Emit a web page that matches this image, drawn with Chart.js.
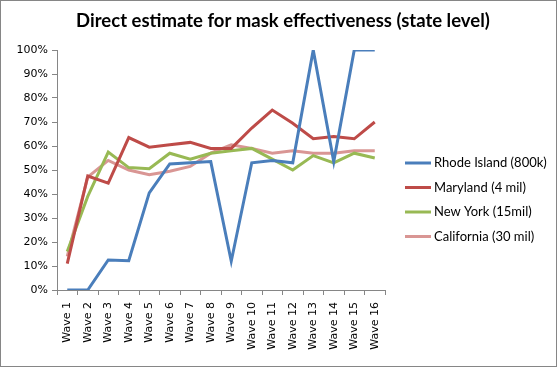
<!DOCTYPE html>
<html lang="en">
<head>
    <meta charset="UTF-8">
    <title>Mask effectiveness</title>
    <script src="https://cdn.jsdelivr.net/npm/chart.js"></script>
    <style>
        body { margin: 0; background: #fff; }
        #wrap { width: 557px; height: 367px; position: relative; }
    </style>
</head>
<body>
    <div id="wrap"><canvas id="maskChart"></canvas></div>

    <script>
        // data
        const waves = ['Wave 1', 'Wave 2', 'Wave 3', 'Wave 4', 'Wave 5', 'Wave 6', 'Wave 7', 'Wave 8',
                       'Wave 9', 'Wave 10', 'Wave 11', 'Wave 12', 'Wave 13', 'Wave 14', 'Wave 15', 'Wave 16'];
        const rhodeIsland = [0, 0, 12.5, 12.2, 40.5, 52.5, 53, 53.5, 12, 53, 54, 53, 100, 53.5, 100, 100];
        const maryland   = [11, 47.5, 44.5, 63.5, 59.5, 60.5, 61.5, 59, 59, 67.5, 75, 69.5, 63, 64, 63, 70];
        const newYork    = [16, 39, 57.5, 51, 50.5, 57, 54.5, 57, 58, 59, 54.5, 50, 56, 53, 57, 55];
        const california = [14, 47, 54, 50, 48, 49.5, 51.5, 57, 60.5, 59, 57, 58, 57, 57, 58, 58];
        const seriesNames = ['Rhode Island (800k)', 'Maryland (4 mil)', 'New York (15mil)', 'California (30 mil)'];
        const yTicks = [0, 10, 20, 30, 40, 50, 60, 70, 80, 90, 100];

        const title = 'Direct estimate for mask effectiveness (state level)';
        const axisColor = '#868686';

        // frame, title and legend drawn by hand, Excel style
        const excelBits = {
            id: 'excelBits',
            beforeDraw(chart) {
                const c = chart.ctx;
                c.save();
                c.fillStyle = '#fff';
                c.fillRect(0, 0, chart.width, chart.height);
                c.strokeStyle = axisColor;
                c.lineWidth = 1;
                c.strokeRect(0.5, 0.5, chart.width - 1, chart.height - 1);
                c.restore();
            },
            afterDraw(chart) {
                const c = chart.ctx;
                c.save();
                c.fillStyle = '#000';
                c.font = 'bold 18.5px Lato';
                c.textAlign = 'center';
                c.textBaseline = 'alphabetic';
                c.fillText(title, 283, 27);

                c.font = '13px Lato';
                c.textAlign = 'left';
                c.textBaseline = 'middle';
                chart.data.datasets.forEach((ds, i) => {
                    const y = 163 + i * 24.5;
                    c.strokeStyle = ds.borderColor;
                    c.lineWidth = 3;
                    c.beginPath();
                    c.moveTo(405, y);
                    c.lineTo(431, y);
                    c.stroke();
                    c.fillStyle = '#000';
                    c.fillText(ds.label, 434, y);
                });
                c.restore();
            }
        };

        const colors = ['#4A7EBB', '#BE4B48', '#98B954', '#D99694'];
        const ctx = document.getElementById('maskChart').getContext('2d');
        const maskChart = new Chart(ctx, {
            type: 'line',
            data: {
                labels: waves,
                datasets: [rhodeIsland, maryland, newYork, california].map((vals, i) => ({
                    label: seriesNames[i],
                    data: vals,
                    borderColor: colors[i],
                    backgroundColor: colors[i],
                    borderWidth: 3,
                    pointRadius: 0,
                    tension: 0
                }))
            },
            options: {
                responsive: true,
                maintainAspectRatio: false,
                animation: false,
                layout: { padding: { left: 0, right: 172, top: 50, bottom: 0 } },
                plugins: {
                    legend: { display: false },
                    title: { display: false },
                    tooltip: { enabled: false }
                },
                scales: {
                    x: {
                        offset: true,
                        grid: { offset: true, drawOnChartArea: false, color: axisColor, tickLength: 5 },
                        border: { color: axisColor },
                        ticks: {
                            color: '#000',
                            font: { family: 'DejaVu Sans', size: 11 },
                            minRotation: 90,
                            maxRotation: 90,
                            padding: 7
                        },
                        afterFit(scale) { scale.height = 77; }
                    },
                    y: {
                        min: 0,
                        max: 100,
                        afterBuildTicks(scale) { scale.ticks = yTicks.map(v => ({ value: v })); },
                        grid: { drawOnChartArea: false, color: axisColor, tickLength: 5 },
                        border: { color: axisColor },
                        ticks: {
                            color: '#000',
                            font: { family: 'DejaVu Sans', size: 11 },
                            padding: 4,
                            callback: v => v + '%'
                        },
                        afterFit(scale) { scale.width = 57; }
                    }
                }
            },
            plugins: [excelBits]
        });
    </script>
</body>
</html>
